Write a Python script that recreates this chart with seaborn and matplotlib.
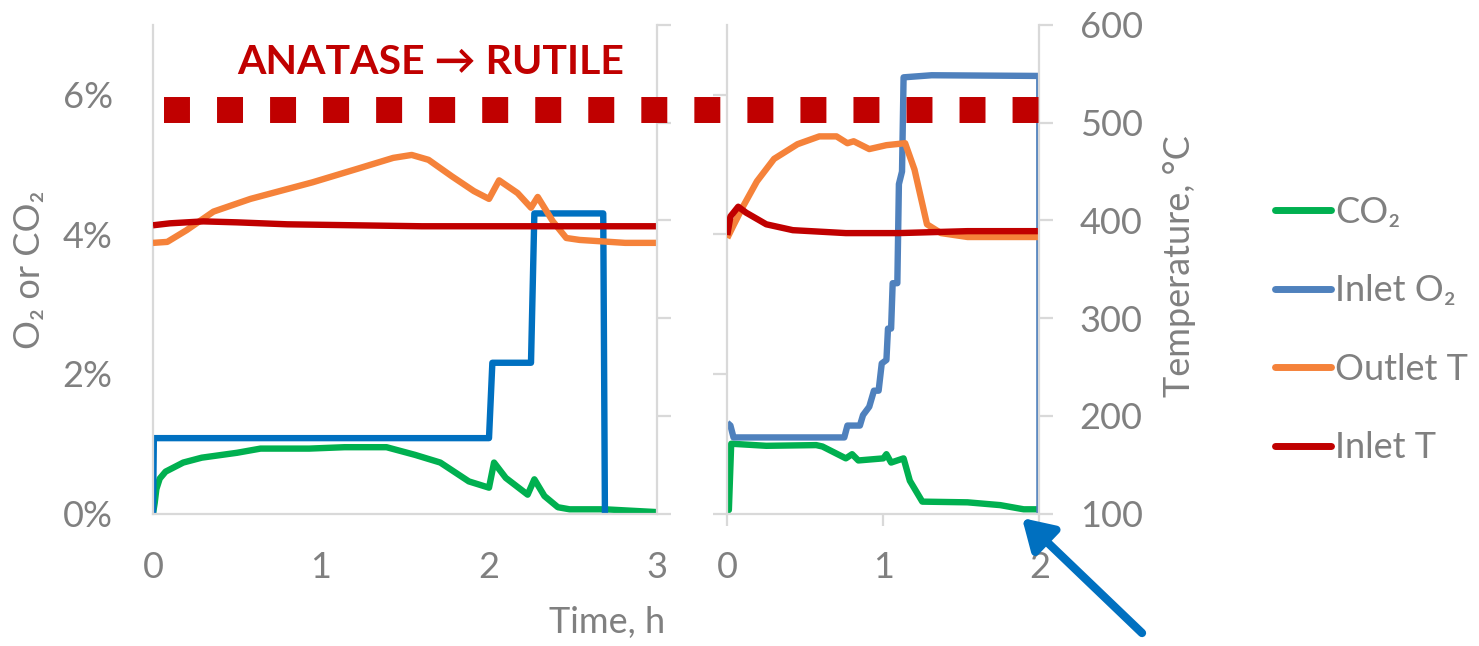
import numpy as np
import pandas as pd
import seaborn as sns
import matplotlib
matplotlib.use("Agg")
import matplotlib.pyplot as plt
from matplotlib.lines import Line2D

# ---------------- data ----------------
# Left panel (0-3 h)
tL_co2 = [0, 0.01, 0.02, 0.04, 0.075, 0.18, 0.29, 0.5, 0.64, 0.93, 1.14, 1.39, 1.56, 1.71, 1.88,
          2.0, 2.03, 2.1, 2.23, 2.27, 2.33, 2.41, 2.48, 2.69, 3.0]
L_co2 = [0, 0.15, 0.35, 0.5, 0.6, 0.73, 0.8, 0.87, 0.93, 0.93, 0.95, 0.95, 0.84, 0.73, 0.46,
         0.37, 0.73, 0.51, 0.27, 0.49, 0.25, 0.09, 0.06, 0.06, 0.02]
tL_o2 = [0, 0.005, 2.0, 2.02, 2.25, 2.27, 2.68, 2.69]
L_o2 = [0, 1.08, 1.08, 2.16, 2.16, 4.3, 4.3, 0]
tL_out = [0, 0.085, 0.2, 0.36, 0.58, 0.95, 1.22, 1.43, 1.54, 1.64, 1.78, 1.91, 2.0, 2.06,
          2.17, 2.25, 2.29, 2.38, 2.46, 2.54, 2.81, 3.0]
L_out = [377, 378, 390, 409, 422, 439, 453, 464, 467, 462, 445, 430, 422, 441,
         428, 413, 424, 399, 382, 380, 377, 377]
tL_in = [0, 0.1, 0.3, 0.5, 0.8, 1.2, 1.6, 2.0, 2.5, 3.0]
L_in = [395, 397, 399, 398, 396, 395, 394, 394, 394, 394]

# Right panel (0-2 h)
tR_co2 = [0, 0.01, 0.025, 0.25, 0.57, 0.61, 0.76, 0.8, 0.84, 1.0, 1.02, 1.05, 1.13, 1.17,
          1.25, 1.54, 1.75, 1.9, 2.0]
R_co2 = [0.05, 0.05, 1.0, 0.97, 0.98, 0.96, 0.79, 0.85, 0.76, 0.79, 0.85, 0.73, 0.79, 0.47,
         0.17, 0.16, 0.12, 0.06, 0.06]
tR_o2 = [0, 0.02, 0.04, 0.75, 0.77, 0.85, 0.87, 0.91, 0.94, 0.97, 0.99, 1.02, 1.03, 1.05,
         1.06, 1.09, 1.10, 1.12, 1.13, 1.31, 2.0, 2.001]
R_o2 = [1.3, 1.26, 1.09, 1.09, 1.26, 1.26, 1.41, 1.53, 1.76, 1.76, 2.15, 2.2, 2.65, 2.65,
        3.3, 3.3, 4.72, 4.9, 6.25, 6.28, 6.27, 0]
tR_out = [0, 0.04, 0.1, 0.19, 0.30, 0.45, 0.59, 0.70, 0.77, 0.81, 0.91, 1.02, 1.14, 1.20,
          1.28, 1.37, 1.54, 2.0]
R_out = [382, 395, 414, 440, 463, 478, 486, 486, 479, 481, 473, 477, 479, 452,
         396, 387, 383, 383]
tR_in = [0, 0.02, 0.07, 0.12, 0.25, 0.42, 0.76, 1.1, 1.54, 2.0]
R_in = [385, 404, 414, 408, 396, 390, 387, 387, 389, 389]

transition_T = 513          # dotted anatase->rutile level, degC
transition_span = (0.065, 2.0)  # from left-panel time to right-panel time

pct_ticks = [0, 2, 4, 6]
pct_labels = ["0%", "2%", "4%", "6%"]
temp_ticks = [100, 200, 300, 400, 500, 600]
series_names = ["CO\u2082", "Inlet O\u2082", "Outlet T", "Inlet T"]

C_CO2 = "#00B050"
C_O2L = "#0070C0"
C_O2R = "#4F81BD"
C_OUT = "#F5823A"
C_IN = "#C00000"
GREY = "#808080"
SPINE = "#D9D9D9"

# ---------------- style ----------------
sns.set_theme(style="white")
plt.rcParams["font.family"] = ["Lato", "DejaVu Sans"]

W, H = 1479, 646
fig = plt.figure(figsize=(W / 100, H / 100), dpi=100)
fig.patch.set_facecolor("white")


def rect(x0, x1, ytop, ybot):
    return [x0 / W, 1 - ybot / H, (x1 - x0) / W, (ybot - ytop) / H]


axL = fig.add_axes(rect(153, 657, 25, 513.5))
axLt = axL.twinx()
axR = fig.add_axes(rect(727.3, 1039.3, 25, 513.5))
axRt = axR.twinx()

for ax in (axL, axLt, axR, axRt):
    ax.patch.set_visible(False)
    ax.grid(False)
    for s in ax.spines.values():
        s.set_visible(False)
        s.set_color(SPINE)
        s.set_linewidth(1.6)

LW = 4.6
kw = dict(estimator=None, sort=False, legend=False, linewidth=LW)

sns.lineplot(x=tL_co2, y=L_co2, ax=axL, color=C_CO2, **kw)
sns.lineplot(x=tL_o2, y=L_o2, ax=axL, color=C_O2L, **kw)
sns.lineplot(x=tL_out, y=L_out, ax=axLt, color=C_OUT, **kw)
sns.lineplot(x=tL_in, y=L_in, ax=axLt, color=C_IN, **kw)

sns.lineplot(x=tR_co2, y=R_co2, ax=axR, color=C_CO2, **kw)
sns.lineplot(x=tR_o2, y=R_o2, ax=axR, color=C_O2R, **kw)
sns.lineplot(x=tR_out, y=R_out, ax=axRt, color=C_OUT, **kw)
sns.lineplot(x=tR_in, y=R_in, ax=axRt, color=C_IN, **kw)

for ax in (axL, axLt, axR, axRt):
    for ln in ax.get_lines():
        ln.set_solid_joinstyle("round")
        ln.set_solid_capstyle("butt")
    ax.set_xlabel("")
    ax.set_ylabel("")

axL.set_xlim(0, 3)
axL.set_ylim(0, 7)
axLt.set_ylim(100, 600)
axR.set_xlim(0, 2)
axR.set_ylim(0, 7)
axRt.set_ylim(100, 600)

FS = 26
# left panel, primary
axL.spines["left"].set_visible(True)
axL.spines["bottom"].set_visible(True)
axL.set_yticks(pct_ticks, pct_labels)
axL.set_xticks([0, 1, 2, 3])
axL.tick_params(axis="y", length=0, pad=29, labelsize=FS, labelcolor=GREY)
axL.tick_params(axis="x", length=0, pad=27, labelsize=FS, labelcolor=GREY)
# left panel, secondary
axLt.spines["right"].set_visible(True)
axLt.set_yticks(temp_ticks, [""] * len(temp_ticks))
axLt.tick_params(axis="y", direction="out", length=10, width=1.6, color=SPINE)

# right panel, primary
axR.spines["left"].set_visible(True)
axR.spines["bottom"].set_visible(True)
axR.set_yticks(pct_ticks, [""] * len(pct_ticks))
axR.set_xticks([0, 1, 2])
axR.tick_params(axis="y", left=True, direction="out", length=10, width=1.6, color=SPINE)
axR.tick_params(axis="x", bottom=True, direction="out", length=8.6, width=1.6, color=SPINE,
                pad=18.5, labelsize=FS, labelcolor=GREY)
# right panel, secondary
axRt.spines["right"].set_visible(True)
axRt.set_yticks(temp_ticks)
axRt.tick_params(axis="y", right=True, direction="out", length=10, width=1.6, color=SPINE,
                 pad=19, labelsize=FS, labelcolor=GREY)

# dotted transition line spanning both panels
fig.canvas.draw()
x0_disp = axL.transData.transform((transition_span[0], 0))[0]
x0_R = axR.transData.inverted().transform((x0_disp, 0))[0]
axRt.plot([x0_R, transition_span[1]], [transition_T, transition_T], color=C_IN,
          linewidth=18.7, linestyle=(0, (1.0, 1.042)), dash_capstyle="butt",
          clip_on=False, zorder=10)

# texts
fig.text(30 / W, 1 - 270 / H, "O\u2082 or CO\u2082", rotation=90, ha="center", va="center",
         color=GREY, fontsize=FS)
fig.text(665 / W, 1 - 623 / H, "Time, h", ha="right", va="center", color=GREY, fontsize=FS)
fig.text(1180 / W, 1 - 266 / H, "Temperature, \u00b0C", rotation=90, ha="center", va="center",
         color=GREY, fontsize=FS)
fig.text(431 / W, 1 - 62 / H, "ANATASE \u2192 RUTILE", ha="center", va="center",
         fontweight="bold", color=C_IN, fontsize=29.5)

# legend
handles = [Line2D([], [], color=c, linewidth=5, solid_capstyle="round")
           for c in (C_CO2, C_O2R, C_OUT, C_IN)]
fig.legend(handles, series_names, loc="center left",
           bbox_to_anchor=(1275 / W, 1 - 330 / H), frameon=False, fontsize=FS,
           handlelength=1.55, handletextpad=0.12, labelspacing=1.26, labelcolor=GREY,
           borderaxespad=0, borderpad=0)

# arrow
axRt.annotate("", xy=(1022, H - 518), xycoords="figure pixels",
              xytext=(1142, H - 633), textcoords="figure pixels",
              arrowprops=dict(arrowstyle="-|>,head_length=0.9,head_width=0.55",
                              mutation_scale=20, color=C_O2L, lw=6,
                              shrinkA=0, shrinkB=0),
              annotation_clip=False)

fig.savefig("out.png", dpi=100)
